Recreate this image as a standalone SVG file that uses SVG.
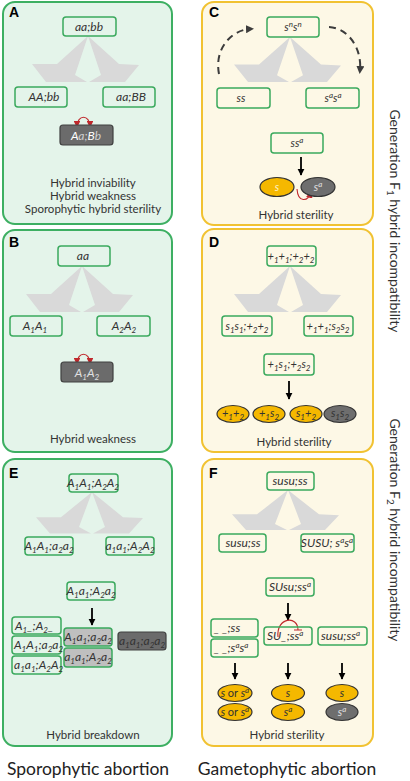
<svg xmlns="http://www.w3.org/2000/svg" width="410" height="781" viewBox="0 0 410 781">
<style>
.pg{fill:#e4f4ea;stroke:#3daf62;stroke-width:2}
.py{fill:#fdf8e6;stroke:#f1c232;stroke-width:2}
.nd{fill:none;stroke:#3aa95d;stroke-width:1.5}
.dk{fill:#6b6b6b;stroke:#404040;stroke-width:1.2}
.lg{fill:#bfbfbf;stroke:#3aa95d;stroke-width:1.5}
.yel{fill:#f5b800;stroke:#333;stroke-width:1.2}
.gry{fill:#6e6e6e;stroke:#333;stroke-width:1.2}
.g{font-family:Lato,'Liberation Sans',sans-serif;font-style:italic;font-size:12px;fill:#333;text-anchor:middle}
.gs{font-family:Lato,'Liberation Sans',sans-serif;font-style:italic;font-size:11px;fill:#333;text-anchor:middle}
.st{text-anchor:start}
.sb{font-size:8px}
.lbl{font-family:'Liberation Sans',Arial,sans-serif;font-weight:bold;font-size:14px;fill:#000}
.cap{font-family:Lato,'Liberation Sans',sans-serif;font-size:11.5px;fill:#333;text-anchor:middle}
.big{font-family:Lato,'Liberation Sans',sans-serif;font-size:17.5px;fill:#222;text-anchor:middle}
.side{font-family:Lato,'Liberation Sans',sans-serif;font-size:14px;fill:#333;text-anchor:middle}
.chev{fill:#d9d9d9}
.blk{stroke:#000;stroke-width:1.8;fill:none}
.red{stroke:#c0282c;stroke-width:1.1;fill:none}
.dash{stroke:#3c3c3c;stroke-width:2;fill:none;stroke-dasharray:7 5}
</style>
<defs>
<path id="chev" d="M0,0 L31,28 L51,29 L37,46 L1,46 L13,39 Z M0,0 L-31,28 L-56,28 L-42,46 L-1,46 L-13,39 Z"/>
<marker id="ab" viewBox="0 0 10 10" refX="9" refY="5" markerWidth="4" markerHeight="4" orient="auto" markerUnits="strokeWidth"><path d="M0,0 L10,5 L0,10 z" fill="#000"/></marker>
<marker id="ar" viewBox="0 0 10 10" refX="9" refY="5" markerWidth="6" markerHeight="6" orient="auto-start-reverse" markerUnits="strokeWidth"><path d="M0,0 L10,5 L0,10 z" fill="#c0282c"/></marker>
<marker id="ad" viewBox="0 0 10 10" refX="5" refY="5" markerWidth="4" markerHeight="4" orient="auto" markerUnits="strokeWidth"><path d="M0,0 L10,5 L0,10 z" fill="#3c3c3c"/></marker>
</defs>

<g id="panels">
<rect class="pg" x="3" y="2" width="169" height="222" rx="12"/>
<rect class="pg" x="3" y="230" width="169" height="222" rx="12"/>
<rect class="pg" x="3" y="459" width="169" height="287" rx="12"/>
<rect class="py" x="202" y="2" width="171" height="223" rx="12"/>
<rect class="py" x="202" y="229" width="171" height="223" rx="12"/>
<rect class="py" x="202" y="459" width="171" height="287" rx="12"/>
<text class="lbl" x="9" y="17">A</text>
<text class="lbl" x="9" y="247">B</text>
<text class="lbl" x="9" y="478">E</text>
<text class="lbl" x="209" y="17">C</text>
<text class="lbl" x="209" y="247">D</text>
<text class="lbl" x="209" y="478">F</text>
</g>

<g id="connectors">
<use href="#chev" class="chev" transform="translate(88,36)"/>
<use href="#chev" class="chev" transform="translate(82,266)"/>
<use href="#chev" class="chev" transform="translate(290,37) scale(1,0.98)"/>
<use href="#chev" class="chev" transform="translate(290,266)"/>
<use href="#chev" class="chev" transform="translate(92,492) scale(1,0.9)"/>
<use href="#chev" class="chev" transform="translate(288,490) scale(1,0.87)"/>
<path class="red" d="M77,127 C77,114 90,114 90,127" marker-start="url(#ar)" marker-end="url(#ar)"/>
<path class="red" d="M77,364 C77,351 90,351 90,364" marker-start="url(#ar)" marker-end="url(#ar)"/>
<path class="dash" d="M219,74 C214,48 232,30 250,29" marker-end="url(#ad)"/>
<path class="dash" d="M329,27 C348,28 362,48 360,70" marker-end="url(#ad)"/>
<line class="blk" x1="301" y1="157" x2="301" y2="175" marker-end="url(#ab)"/>
<path class="red" d="M297,189 C298,203 308,202 311,192" marker-end="url(#ar)"/>
<line class="blk" x1="289" y1="381" x2="289" y2="399" marker-end="url(#ab)"/>
<line class="blk" x1="92" y1="608" x2="92" y2="625" marker-end="url(#ab)"/>
<line class="blk" x1="288" y1="603" x2="288" y2="620" marker-end="url(#ab)"/>
<line class="blk" x1="235" y1="663" x2="235" y2="679" marker-end="url(#ab)"/>
<line class="blk" x1="288" y1="663" x2="288" y2="679" marker-end="url(#ab)"/>
<line class="blk" x1="342" y1="663" x2="342" y2="679" marker-end="url(#ab)"/>
<path class="red" d="M278,637 C276,617 298,615 298,630 M294,630 L302,630"/>
</g>

<!-- Panel A -->
<g id="nA1"><rect class="nd" x="63" y="17" width="53" height="19" rx="3"/><text class="g" x="89" y="31">aa;bb</text></g>
<g id="nA2"><rect class="nd" x="15" y="87" width="52" height="20" rx="3"/><text class="g" x="44" y="101">AA;bb</text></g>
<g id="nA3"><rect class="nd" x="103" y="87" width="52" height="20" rx="3"/><text class="g" x="131" y="101">aa;BB</text></g>
<g id="nA4"><rect class="dk" x="60" y="125" width="53" height="20" rx="3"/><text class="g" x="86" y="140"><tspan fill="#fff">A</tspan><tspan fill="#d0d0d0">a;</tspan><tspan fill="#fff">B</tspan><tspan fill="#d0d0d0">b</tspan></text></g>
<g id="capA"><text class="cap" x="93" y="187">Hybrid inviability</text><text class="cap" x="93" y="200">Hybrid weakness</text><text class="cap" x="93" y="213">Sporophytic hybrid sterility</text></g>

<!-- Panel B -->
<g id="nB1"><rect class="nd" x="58" y="246" width="52" height="20" rx="3"/><text class="g" x="83" y="260">aa</text></g>
<g id="nB2"><rect class="nd" x="10" y="316" width="52" height="20" rx="3"/><text class="g" x="35" y="330">A<tspan class="sb" dy="2.5">1</tspan><tspan dy="-2.5">A</tspan><tspan class="sb" dy="2.5">1</tspan></text></g>
<g id="nB3"><rect class="nd" x="97" y="316" width="53" height="20" rx="3"/><text class="g" x="124" y="330">A<tspan class="sb" dy="2.5">2</tspan><tspan dy="-2.5">A</tspan><tspan class="sb" dy="2.5">2</tspan></text></g>
<g id="nB4"><rect class="dk" x="61" y="362" width="52" height="20" rx="3"/><text class="g" x="87" y="377" style="fill:#e0e0e0">A<tspan class="sb" dy="2.5">1</tspan><tspan dy="-2.5">A</tspan><tspan class="sb" dy="2.5">2</tspan></text></g>
<g id="capB"><text class="cap" x="93" y="443">Hybrid weakness</text></g>

<!-- Panel C -->
<g id="nC1"><rect class="nd" x="267" y="17" width="52" height="20" rx="3"/><text class="gs" x="293" y="31">s<tspan class="sb" dy="-4">n</tspan><tspan dy="4">s</tspan><tspan class="sb" dy="-4">n</tspan></text></g>
<g id="nC2"><rect class="nd" x="217" y="88" width="53" height="20" rx="3"/><text class="gs" x="241" y="102">ss</text></g>
<g id="nC3"><rect class="nd" x="306" y="88" width="53" height="20" rx="3"/><text class="gs" x="333" y="102">s<tspan class="sb" dy="-4">a</tspan><tspan dy="4">s</tspan><tspan class="sb" dy="-4">a</tspan></text></g>
<g id="nC4"><rect class="nd" x="271" y="133" width="52" height="20" rx="3"/><text class="gs" x="297" y="147">ss<tspan class="sb" dy="-4">a</tspan></text></g>
<g id="eC1"><ellipse class="yel" cx="277" cy="187" rx="17" ry="9.5"/><text class="gs" x="277" y="191" style="fill:#fff3c8">s</text></g>
<g id="eC2"><ellipse class="gry" cx="318" cy="187" rx="17" ry="9.5"/><text class="gs" x="318" y="191" style="fill:#e0e0e0">s<tspan class="sb" dy="-4">a</tspan></text></g>
<g id="capC"><text class="cap" x="296" y="219">Hybrid sterility</text></g>

<!-- Panel D -->
<g id="nD1"><rect class="nd" x="267" y="246" width="49" height="20" rx="3"/><text class="gs" x="291" y="260">+<tspan class="sb" dy="2.5">1</tspan><tspan dy="-2.5">+</tspan><tspan class="sb" dy="2.5">1</tspan><tspan dy="-2.5">;+</tspan><tspan class="sb" dy="2.5">2</tspan><tspan dy="-2.5">+</tspan><tspan class="sb" dy="2.5">2</tspan></text></g>
<g id="nD2"><rect class="nd" x="222" y="316" width="50" height="20" rx="3"/><text class="gs" x="247" y="330">s<tspan class="sb" dy="2.5">1</tspan><tspan dy="-2.5">s</tspan><tspan class="sb" dy="2.5">1</tspan><tspan dy="-2.5">;+</tspan><tspan class="sb" dy="2.5">2</tspan><tspan dy="-2.5">+</tspan><tspan class="sb" dy="2.5">2</tspan></text></g>
<g id="nD3"><rect class="nd" x="304" y="316" width="49" height="20" rx="3"/><text class="gs" x="328" y="330">+<tspan class="sb" dy="2.5">1</tspan><tspan dy="-2.5">+</tspan><tspan class="sb" dy="2.5">1</tspan><tspan dy="-2.5">;s</tspan><tspan class="sb" dy="2.5">2</tspan><tspan dy="-2.5">s</tspan><tspan class="sb" dy="2.5">2</tspan></text></g>
<g id="nD4"><rect class="nd" x="264" y="354" width="50" height="21" rx="3"/><text class="gs" x="289" y="368">+<tspan class="sb" dy="2.5">1</tspan><tspan dy="-2.5">s</tspan><tspan class="sb" dy="2.5">1</tspan><tspan dy="-2.5">;+</tspan><tspan class="sb" dy="2.5">2</tspan><tspan dy="-2.5">s</tspan><tspan class="sb" dy="2.5">2</tspan></text></g>
<g id="eD1"><ellipse class="yel" cx="233" cy="414" rx="16" ry="8.5"/><text class="gs" x="233" y="417">+<tspan class="sb" dy="2.5">1</tspan><tspan dy="-2.5">+</tspan><tspan class="sb" dy="2.5">2</tspan></text></g>
<g id="eD2"><ellipse class="yel" cx="269" cy="414" rx="16" ry="8.5"/><text class="gs" x="269" y="417">+<tspan class="sb" dy="2.5">1</tspan><tspan dy="-2.5">s</tspan><tspan class="sb" dy="2.5">2</tspan></text></g>
<g id="eD3"><ellipse class="yel" cx="306" cy="414" rx="16" ry="8.5"/><text class="gs" x="306" y="417">s<tspan class="sb" dy="2.5">1</tspan><tspan dy="-2.5">+</tspan><tspan class="sb" dy="2.5">2</tspan></text></g>
<g id="eD4"><ellipse class="gry" cx="340" cy="414" rx="16" ry="8.5"/><text class="gs" x="340" y="417">s<tspan class="sb" dy="2.5">1</tspan><tspan dy="-2.5">s</tspan><tspan class="sb" dy="2.5">2</tspan></text></g>
<g id="capD"><text class="cap" x="294" y="446">Hybrid sterility</text></g>

<!-- Panel E -->
<g id="nE1"><rect class="nd" x="69" y="474" width="49" height="18" rx="3"/><text class="g" x="93" y="487">A<tspan class="sb" dy="2.5">1</tspan><tspan dy="-2.5">A</tspan><tspan class="sb" dy="2.5">1</tspan><tspan dy="-2.5">;A</tspan><tspan class="sb" dy="2.5">2</tspan><tspan dy="-2.5">A</tspan><tspan class="sb" dy="2.5">2</tspan></text></g>
<g id="nE2"><rect class="nd" x="25" y="537" width="48" height="18" rx="3"/><text class="g" x="49" y="550">A<tspan class="sb" dy="2.5">1</tspan><tspan dy="-2.5">A</tspan><tspan class="sb" dy="2.5">1</tspan><tspan dy="-2.5">;a</tspan><tspan class="sb" dy="2.5">2</tspan><tspan dy="-2.5">a</tspan><tspan class="sb" dy="2.5">2</tspan></text></g>
<g id="nE3"><rect class="nd" x="106" y="537" width="48" height="18" rx="3"/><text class="g" x="130" y="550">a<tspan class="sb" dy="2.5">1</tspan><tspan dy="-2.5">a</tspan><tspan class="sb" dy="2.5">1</tspan><tspan dy="-2.5">;A</tspan><tspan class="sb" dy="2.5">2</tspan><tspan dy="-2.5">A</tspan><tspan class="sb" dy="2.5">2</tspan></text></g>
<g id="nE4"><rect class="nd" x="67" y="582" width="48" height="18" rx="3"/><text class="g" x="91" y="595">A<tspan class="sb" dy="2.5">1</tspan><tspan dy="-2.5">a</tspan><tspan class="sb" dy="2.5">1</tspan><tspan dy="-2.5">;A</tspan><tspan class="sb" dy="2.5">2</tspan><tspan dy="-2.5">a</tspan><tspan class="sb" dy="2.5">2</tspan></text></g>
<g id="nE5"><rect class="nd" x="12" y="617" width="49" height="17" rx="3"/><text class="g st" x="15" y="630">A<tspan class="sb" dy="2.5">1</tspan><tspan dy="-2.5">_;A</tspan><tspan class="sb" dy="2.5">2</tspan><tspan dy="-2.5">_</tspan></text></g>
<g id="nE6"><rect class="nd" x="12" y="636" width="49" height="18" rx="3"/><text class="g st" x="14" y="649">A<tspan class="sb" dy="2.5">1</tspan><tspan dy="-2.5">A</tspan><tspan class="sb" dy="2.5">1</tspan><tspan dy="-2.5">;a</tspan><tspan class="sb" dy="2.5">2</tspan><tspan dy="-2.5">a</tspan><tspan class="sb" dy="2.5">2</tspan></text></g>
<g id="nE7"><rect class="nd" x="12" y="656" width="49" height="18" rx="3"/><text class="g st" x="14" y="669">a<tspan class="sb" dy="2.5">1</tspan><tspan dy="-2.5">a</tspan><tspan class="sb" dy="2.5">1</tspan><tspan dy="-2.5">;A</tspan><tspan class="sb" dy="2.5">2</tspan><tspan dy="-2.5">A</tspan><tspan class="sb" dy="2.5">2</tspan></text></g>
<g id="nE8"><rect class="lg" x="64" y="628" width="48" height="18" rx="3"/><text class="g" x="88" y="641">A<tspan class="sb" dy="2.5">1</tspan><tspan dy="-2.5">a</tspan><tspan class="sb" dy="2.5">1</tspan><tspan dy="-2.5">;a</tspan><tspan class="sb" dy="2.5">2</tspan><tspan dy="-2.5">a</tspan><tspan class="sb" dy="2.5">2</tspan></text></g>
<g id="nE9"><rect class="lg" x="64" y="648" width="48" height="19" rx="3"/><text class="g" x="88" y="661">a<tspan class="sb" dy="2.5">1</tspan><tspan dy="-2.5">a</tspan><tspan class="sb" dy="2.5">1</tspan><tspan dy="-2.5">;A</tspan><tspan class="sb" dy="2.5">2</tspan><tspan dy="-2.5">a</tspan><tspan class="sb" dy="2.5">2</tspan></text></g>
<g id="nE10"><rect class="dk" x="118" y="632" width="48" height="18" rx="3"/><text class="g" x="142" y="645">a<tspan class="sb" dy="2.5">1</tspan><tspan dy="-2.5">a</tspan><tspan class="sb" dy="2.5">1</tspan><tspan dy="-2.5">;a</tspan><tspan class="sb" dy="2.5">2</tspan><tspan dy="-2.5">a</tspan><tspan class="sb" dy="2.5">2</tspan></text></g>
<g id="capE"><text class="cap" x="93" y="739">Hybrid breakdown</text></g>

<!-- Panel F -->
<g id="nF1"><rect class="nd" x="267" y="472" width="47" height="18" rx="3"/><text class="g" x="290" y="485">susu;ss</text></g>
<g id="nF2"><rect class="nd" x="219" y="534" width="47" height="18" rx="3"/><text class="g" x="243" y="547">susu;ss</text></g>
<g id="nF3"><rect class="nd" x="301" y="534" width="53" height="18" rx="3"/><text class="g" x="327" y="547">SUSU; s<tspan class="sb" dy="-4">a</tspan><tspan dy="4">s</tspan><tspan class="sb" dy="-4">a</tspan></text></g>
<g id="nF4"><rect class="nd" x="266" y="578" width="48" height="18" rx="3"/><text class="g" x="290" y="591">SUsu;ss<tspan class="sb" dy="-4">a</tspan></text></g>
<g id="nF5"><rect class="nd" x="211" y="619" width="47" height="18" rx="3"/><text class="g st" x="214" y="632">_ _;ss</text></g>
<g id="nF6"><rect class="nd" x="211" y="639" width="47" height="18" rx="3"/><text class="g st" x="214" y="652">_ _;s<tspan class="sb" dy="-4">a</tspan><tspan dy="4">s</tspan><tspan class="sb" dy="-4">a</tspan></text></g>
<g id="nF7"><rect class="nd" x="264" y="627" width="48" height="18" rx="3"/><text class="g st" x="267" y="640">SU_;ss<tspan class="sb" dy="-4">a</tspan></text></g>
<g id="nF8"><rect class="nd" x="318" y="627" width="49" height="18" rx="3"/><text class="g st" x="321" y="640">susu;ss<tspan class="sb" dy="-4">a</tspan></text></g>
<g id="eF1"><ellipse class="yel" cx="235" cy="693" rx="17" ry="8.5"/><text class="gs" x="235" y="697">s <tspan style="font-style:normal">or</tspan> s<tspan class="sb" dy="-4">a</tspan></text></g>
<g id="eF2"><ellipse class="yel" cx="235" cy="712" rx="17" ry="8.5"/><text class="gs" x="235" y="716">s <tspan style="font-style:normal">or</tspan> s<tspan class="sb" dy="-4">a</tspan></text></g>
<g id="eF3"><ellipse class="yel" cx="288" cy="693" rx="16.5" ry="8.5"/><text class="gs" x="288" y="697">s</text></g>
<g id="eF4"><ellipse class="yel" cx="288" cy="712" rx="16.5" ry="8.5"/><text class="gs" x="288" y="716">s<tspan class="sb" dy="-4">a</tspan></text></g>
<g id="eF5"><ellipse class="yel" cx="342" cy="693" rx="16" ry="8.5"/><text class="gs" x="342" y="697">s</text></g>
<g id="eF6"><ellipse class="gry" cx="342" cy="712" rx="16" ry="8.5"/><text class="gs" x="342" y="716" style="fill:#e0e0e0">s<tspan class="sb" dy="-4">a</tspan></text></g>
<g id="capF"><text class="cap" x="287" y="739">Hybrid sterility</text></g>

<g id="labels">
<text class="side" transform="translate(390,221) rotate(90)">Generation F<tspan class="sb" style="font-size:10px" dy="3">1</tspan><tspan dy="-3"> hybrid incompatibility</tspan></text>
<text class="side" transform="translate(390,530) rotate(90)">Generation F<tspan class="sb" style="font-size:10px" dy="3">2</tspan><tspan dy="-3"> hybrid incompatibility</tspan></text>
<text class="big" x="88" y="775">Sporophytic abortion</text>
<text class="big" x="287" y="775">Gametophytic abortion</text>
</g>
</svg>
